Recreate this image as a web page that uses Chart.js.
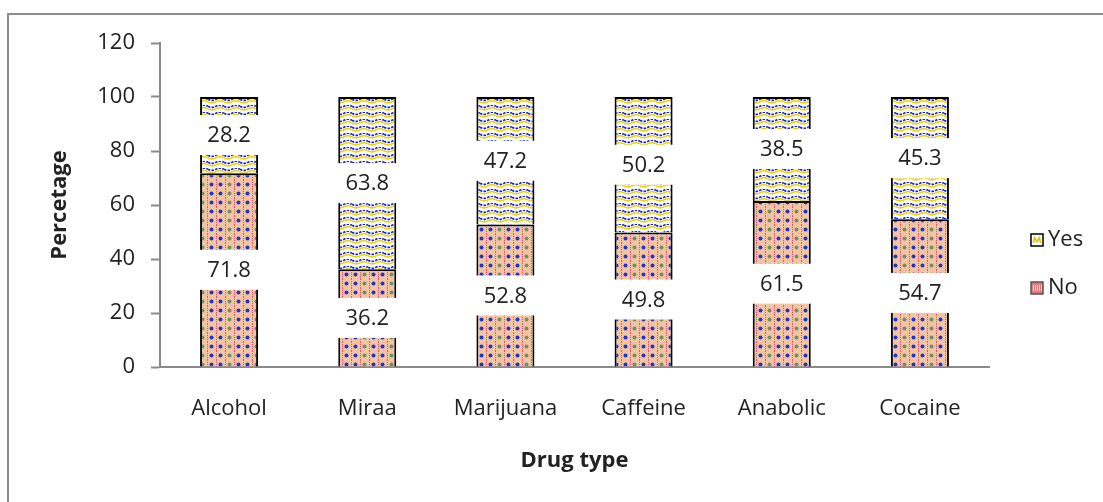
<!DOCTYPE html>
<html>
<head>
<meta charset="utf-8">
<script src="https://cdn.jsdelivr.net/npm/chart.js@4.4.1/dist/chart.umd.min.js"></script>
<style>
  html, body { margin: 0; padding: 0; background: #fff; }
  #wrap { width: 1103px; height: 502px; }
</style>
</head>
<body>
<div id="wrap"><canvas id="drugChart" width="1103" height="502"></canvas></div>
<script>
// ─── Data ─────────────────────────────────────────────

const DRUGS     = ['Alcohol', 'Miraa', 'Marijuana', 'Caffeine', 'Anabolic', 'Cocaine'];
const NO_PCT    = [71.8, 36.2, 52.8, 49.8, 61.5, 54.7];
const YES_PCT   = [28.2, 63.8, 47.2, 50.2, 38.5, 45.3];
const Y_TICKS   = [0, 20, 40, 60, 80, 100, 120];

const FONT = "'Open Sans', 'Noto Sans', sans-serif";
const INK  = '#222';
const AXIS = '#8a8a8a';

// ─── Fill patterns ────────────────────────────────────

function wavePattern() {
  const c = document.createElement('canvas');
  c.width = 16; c.height = 7;
  const g = c.getContext('2d');
  g.fillStyle = '#fff';
  g.fillRect(0, 0, 16, 7);
  const wave = (y0, color, w, dash) => {
    g.beginPath();
    for (let x = 0; x <= 16; x += 0.5) {
      const y = y0 + Math.sin(x / 16 * Math.PI * 2) * 1.1;
      x === 0 ? g.moveTo(x, y) : g.lineTo(x, y);
    }
    g.strokeStyle = color;
    g.lineWidth = w;
    g.setLineDash(dash);
    g.stroke();
  };
  wave(1.3, '#1020f0', 1.7, [2.5, 1.2]);
  wave(3.8, '#f0d400', 1.6, []);
  return g.createPattern(c, 'repeat');
}

function dotPattern() {
  const c = document.createElement('canvas');
  c.width = 27; c.height = 9;
  const g = c.getContext('2d');
  g.fillStyle = '#f2c4a2';
  g.fillRect(0, 0, 27, 9);
  const dots = ['#2233c8', '#6f8f6a', '#2233c8'];
  for (let i = 0; i < 3; i++) {
    g.fillStyle = '#f05070';
    for (let y = 0; y < 9; y += 2) g.fillRect(i * 9, y, 1, 1);
    g.fillStyle = dots[i];
    g.beginPath();
    g.arc(i * 9 + 4.5, 4.5, 2, 0, Math.PI * 2);
    g.fill();
  }
  return g.createPattern(c, 'repeat');
}

// ─── Plugins ──────────────────────────────────────────

const frame = {
  id: 'frame',
  beforeDraw(chart) {
    const ctx = chart.ctx;
    ctx.save();
    ctx.fillStyle = '#fff';
    ctx.fillRect(0, 0, chart.width, chart.height);
    ctx.strokeStyle = '#8c8c8c';
    ctx.lineWidth = 2;
    ctx.strokeRect(8, 14, 1100, 500);
    ctx.restore();
  },
};

const valueBoxes = {
  id: 'valueBoxes',
  afterDatasetsDraw(chart) {
    const ctx = chart.ctx;
    ctx.save();
    ctx.font = '22px ' + FONT;
    ctx.textAlign = 'center';
    ctx.textBaseline = 'middle';
    chart.data.datasets.forEach((ds, di) => {
      chart.getDatasetMeta(di).data.forEach((el, i) => {
        const { x, y, base, width } = el.getProps(['x', 'y', 'base', 'width'], true);
        const cy = (y + base) / 2;
        const txt = ds.data[i].toFixed(1);
        const w = Math.max(ctx.measureText(txt).width + 18, width + 4);
        ctx.fillStyle = '#fff';
        ctx.fillRect(x - w / 2, cy - 20, w, 40);
        ctx.fillStyle = INK;
        ctx.fillText(txt, x, cy + 1);
      });
    });
    ctx.restore();
  },
};

const sideLegend = {
  id: 'sideLegend',
  afterDraw(chart) {
    const ctx = chart.ctx;
    const items = chart.data.datasets.slice().reverse();
    ctx.save();
    ctx.font = '22px ' + FONT;
    ctx.textBaseline = 'middle';
    items.forEach((ds, k) => {
      const cy = 240 + k * 48;
      const bx = 1031, by = cy - 6;
      if (ds.label === 'Yes') {
        ctx.fillStyle = '#fff';
        ctx.fillRect(bx, by, 12, 12);
        ctx.strokeStyle = '#e0c000';
        ctx.lineWidth = 1.5;
        ctx.beginPath();
        ctx.moveTo(bx + 2.5, by + 9); ctx.lineTo(bx + 3.5, by + 3.5);
        ctx.lineTo(bx + 6, by + 7.5); ctx.lineTo(bx + 8.5, by + 3.5);
        ctx.lineTo(bx + 9.5, by + 9);
        ctx.stroke();
        ctx.strokeStyle = '#000';
      } else {
        ctx.fillStyle = '#e07a7a';
        ctx.fillRect(bx, by, 12, 12);
        ctx.fillStyle = '#f6d2d2';
        for (let x = bx + 2; x < bx + 11; x += 2) ctx.fillRect(x, by + 3, 1, 6);
        ctx.strokeStyle = '#555';
      }
      ctx.lineWidth = 1.5;
      ctx.strokeRect(bx, by, 12, 12);
      ctx.fillStyle = INK;
      ctx.fillText(ds.label, 1048, cy);
    });
    ctx.restore();
  },
};

// ─── Chart ────────────────────────────────────────────

const ctx = document.getElementById('drugChart').getContext('2d');

new Chart(ctx, {
  type: 'bar',
  data: {
    labels: DRUGS,
    datasets: [
      { label: 'No',  data: NO_PCT,  backgroundColor: dotPattern(),  borderColor: '#000', borderWidth: 2 },
      { label: 'Yes', data: YES_PCT, backgroundColor: wavePattern(), borderColor: '#000', borderWidth: 2 },
    ],
  },
  options: {
    responsive: false,
    animation: false,
    layout: { padding: { left: 43, right: 114, top: 43, bottom: 24 } },
    datasets: { bar: { categoryPercentage: 0.84, barPercentage: 0.5 } },
    scales: {
      x: {
        stacked: true,
        grid: { display: false, drawTicks: false },
        border: { display: true, color: AXIS, width: 2 },
        ticks: { color: INK, padding: 29, font: { size: 22, family: FONT } },
        title: { display: true, text: 'Drug type', color: INK, font: { size: 22, weight: 'bold', family: FONT } },
        afterFit: s => { s.height = 111; },
      },
      y: {
        stacked: true,
        min: 0,
        max: 120,
        afterBuildTicks: s => { s.ticks = Y_TICKS.map(v => ({ value: v })); },
        grid: { drawOnChartArea: false, tickLength: 9, tickColor: AXIS, tickWidth: 2 },
        border: { display: true, color: AXIS, width: 2 },
        ticks: { color: INK, padding: 16, font: { size: 22, family: FONT } },
        title: { display: true, text: 'Percetage', color: INK, font: { size: 22, weight: 'bold', family: FONT } },
        afterFit: s => { s.width = 117; },
      },
    },
    plugins: {
      legend: { display: false },
      tooltip: { enabled: false },
    },
  },
  plugins: [frame, valueBoxes, sideLegend],
});
</script>
</body>
</html>
